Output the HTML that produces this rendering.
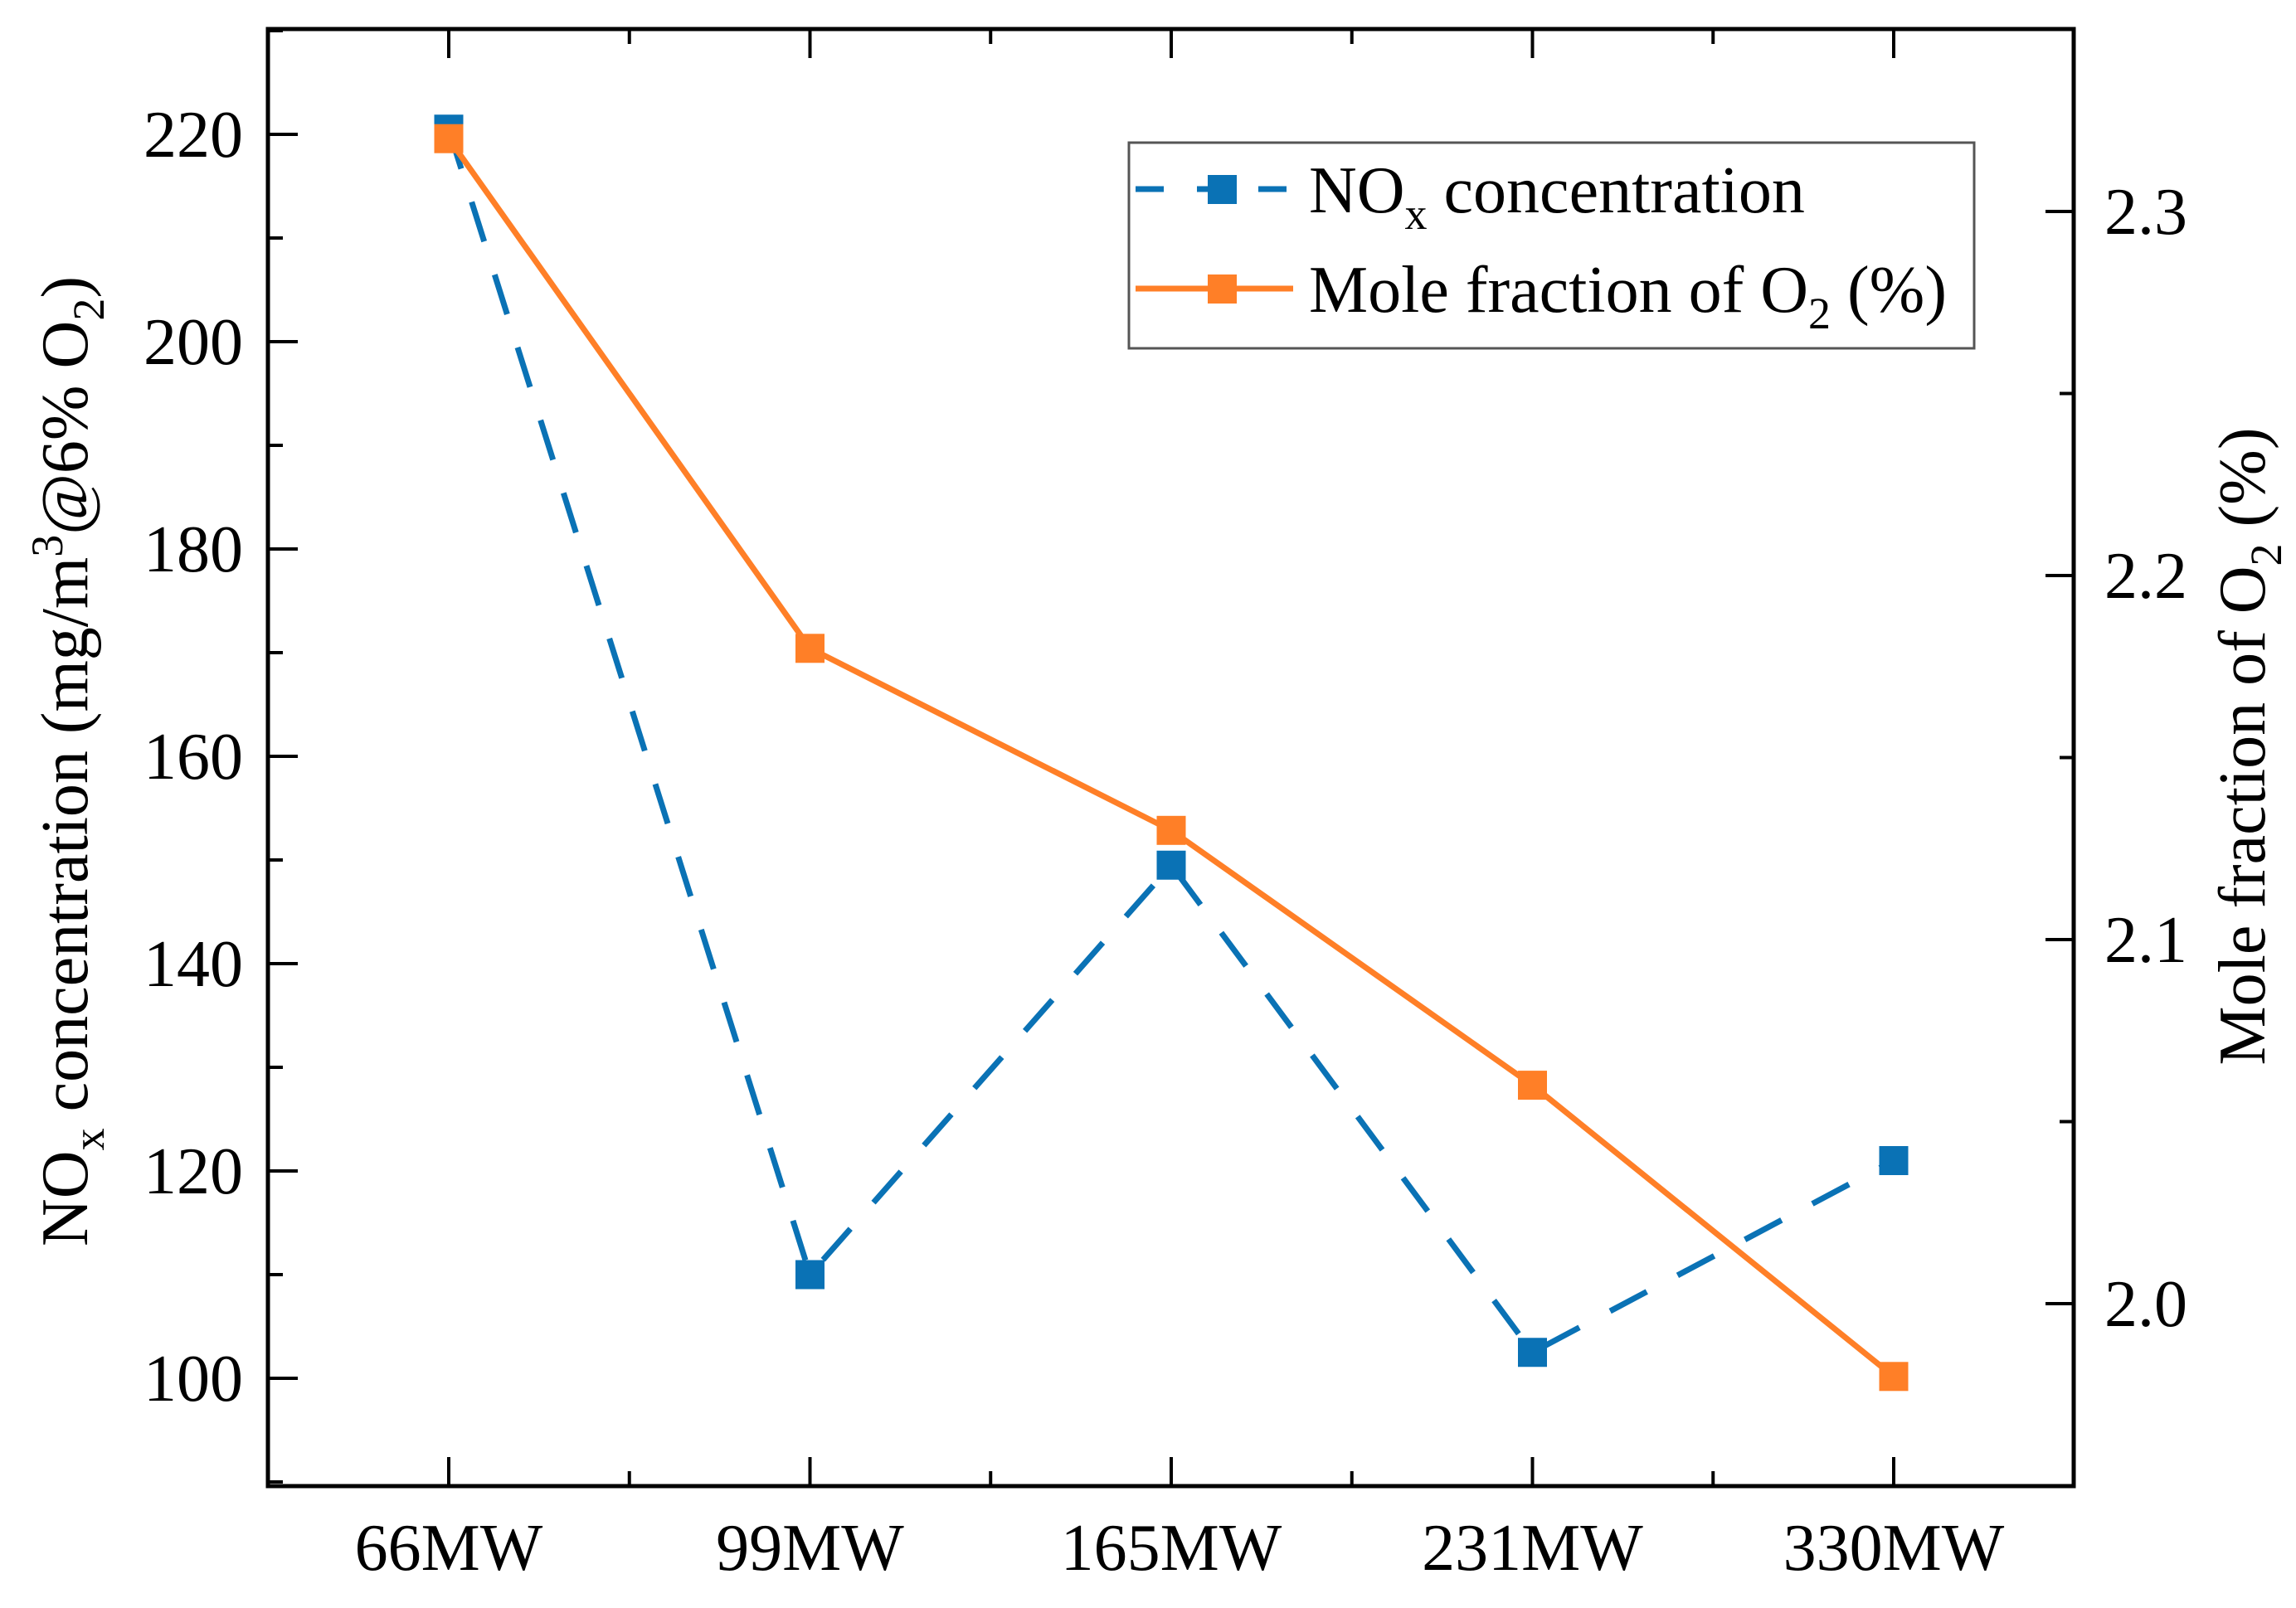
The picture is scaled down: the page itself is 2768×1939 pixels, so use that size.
<!DOCTYPE html>
<html><head><meta charset="utf-8"><style>
html,body{margin:0;padding:0;background:#fff;}
svg{display:block;font-family:"Liberation Serif",serif;}
</style></head><body>
<svg id="chart" width="2768" height="1939" viewBox="0 0 2768 1939" xmlns="http://www.w3.org/2000/svg">
<g id="axes"></g>
<g id="series"></g>
<g id="legend">
  <rect x="1361" y="172" width="1019" height="248" fill="#fff" stroke="#555" stroke-width="3"/>
  <g>
    <line x1="1369" y1="228" x2="1559" y2="228" stroke="#0a72b5" stroke-width="7" stroke-dasharray="34,40"/>
    <rect x="1456" y="211" width="35" height="35" fill="#0a72b5"/>
    <text x="1578" y="256" font-size="80">NO<tspan font-size="54" dy="20">x</tspan><tspan dy="-20"> concentration</tspan></text>
  </g>
  <g>
    <line x1="1369" y1="348" x2="1559" y2="348" stroke="#ff7f27" stroke-width="7"/>
    <rect x="1456" y="331" width="35" height="35" fill="#ff7f27"/>
    <text x="1578" y="376" font-size="80">Mole fraction of O<tspan font-size="54" dy="20">2</tspan><tspan dy="-20"> (%)</tspan></text>
  </g>
</g>
<text transform="translate(105,918) rotate(-90)" text-anchor="middle" font-size="80">NO<tspan font-size="54" dy="20">x</tspan><tspan dy="-20"> concentration (mg/m</tspan><tspan font-size="54" dy="-30">3</tspan><tspan dy="30">@6% O</tspan><tspan font-size="54" dy="20">2</tspan><tspan dy="-20">)</tspan></text>
<text transform="translate(2730,900) rotate(-90)" text-anchor="middle" font-size="80">Mole fraction of O<tspan font-size="54" dy="20">2</tspan><tspan dy="-20"> (%)</tspan></text>
</svg>
<script>
const categories = ["66MW","99MW","165MW","231MW","330MW"];
const noxValues = [220.5, 110, 149.5, 102.5, 121];
const o2Values = [2.32, 2.18, 2.13, 2.06, 1.98];
const leftTicks = [100,120,140,160,180,200,220];
const rightTicks = [2.0,2.1,2.2,2.3];

const NS="http://www.w3.org/2000/svg";
const L=323, R=2500, T=35, B=1792;
const xPos = i => 541 + i*435.5;
const yLeft = v => 162 + (220 - v)*12.5;
const yRight = v => 255 + (2.3 - v)*4390;
function mk(tag, attrs, parent){const e=document.createElementNS(NS,tag);for(const k in attrs)e.setAttribute(k,attrs[k]);parent.appendChild(e);return e;}
const axes=document.getElementById('axes');
const series=document.getElementById('series');

const frame=mk('rect',{x:L,y:T,width:R-L,height:B-T,fill:'none',stroke:'#000','stroke-width':5},axes);



categories.forEach((c,i)=>{
  const x=xPos(i);
  mk('line',{x1:x,y1:B,x2:x,y2:B-35,stroke:'#000','stroke-width':4},axes);
  mk('line',{x1:x,y1:T,x2:x,y2:T+35,stroke:'#000','stroke-width':4},axes);
  if(i<categories.length-1){
    const xm=x+217.75;
    mk('line',{x1:xm,y1:B,x2:xm,y2:B-18,stroke:'#000','stroke-width':4},axes);
    mk('line',{x1:xm,y1:T,x2:xm,y2:T+18,stroke:'#000','stroke-width':4},axes);
  }
  const t=mk('text',{x:x,y:1893,'text-anchor':'middle','font-size':80},axes);
  t.textContent=c;
  
  
});
leftTicks.forEach(v=>{
  const y=yLeft(v);
  mk('line',{x1:L,y1:y,x2:L+36,y2:y,stroke:'#000','stroke-width':4},axes);
  const ym=yLeft(v+10);
  if(ym>T) mk('line',{x1:L,y1:ym,x2:L+18,y2:ym,stroke:'#000','stroke-width':4},axes);
  const t=mk('text',{x:293,y:y+27,'text-anchor':'end','font-size':80},axes);
  t.textContent=v;
  
  
});
mk('line',{x1:L,y1:yLeft(90),x2:L+18,y2:yLeft(90),stroke:'#000','stroke-width':4},axes);
rightTicks.forEach(v=>{
  const y=yRight(v);
  mk('line',{x1:R,y1:y,x2:R-34,y2:y,stroke:'#000','stroke-width':4},axes);
  const t=mk('text',{x:2537,y:y+27,'text-anchor':'start','font-size':80},axes);
  t.textContent=v.toFixed(1);
  
  
});
[1.95,2.05,2.15,2.25].forEach(v=>{const y=yRight(v);mk('line',{x1:R,y1:y,x2:R-17,y2:y,stroke:'#000','stroke-width':4},axes);});

const noxPts=noxValues.map((v,i)=>xPos(i)+','+yLeft(v)).join(' ');
const o2Pts=o2Values.map((v,i)=>xPos(i)+','+yRight(v)).join(' ');
const noxLine=mk('polyline',{points:noxPts,fill:'none',stroke:'#0a72b5','stroke-width':7,'stroke-dasharray':'50,42'},series);


const o2Line=mk('polyline',{points:o2Pts,fill:'none',stroke:'#ff7f27','stroke-width':7},series);


noxValues.forEach((v,i)=>{
  const r=mk('rect',{x:xPos(i)-17.5,y:yLeft(v)-17.5,width:35,height:35,fill:'#0a72b5'},series);
  
  
});
o2Values.forEach((v,i)=>{
  const r=mk('rect',{x:xPos(i)-17.5,y:yRight(v)-17.5,width:35,height:35,fill:'#ff7f27'},series);
  
  
});
</script>
</body></html>
